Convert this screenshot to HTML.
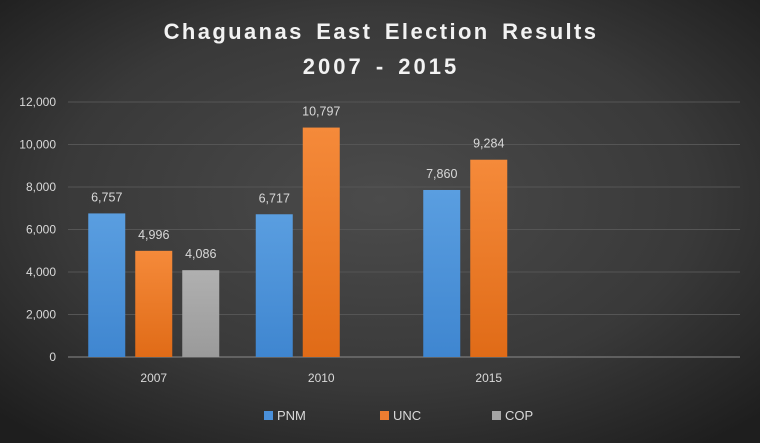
<!DOCTYPE html>
<html><head><meta charset="utf-8">
<style>
html,body{margin:0;padding:0;}
body{width:760px;height:443px;overflow:hidden;background:#333;font-family:"Liberation Sans",sans-serif;}
svg{display:block;}
</style></head>
<body>
<svg id="chart" width="760" height="443" viewBox="0 0 760 443" xmlns="http://www.w3.org/2000/svg">
<defs>
<radialGradient id="bg" cx="50%" cy="45%" r="70%">
<stop offset="0" stop-color="#4b4b4b"/><stop offset="0.6" stop-color="#393939"/><stop offset="1" stop-color="#1e1e1e"/>
</radialGradient>
<linearGradient id="gPNM" x1="0" y1="0" x2="0" y2="1"><stop offset="0" stop-color="#5a9ee0"/><stop offset="1" stop-color="#3f86d0"/></linearGradient>
<linearGradient id="gUNC" x1="0" y1="0" x2="0" y2="1"><stop offset="0" stop-color="#f58a3a"/><stop offset="1" stop-color="#e06b17"/></linearGradient>
<linearGradient id="gCOP" x1="0" y1="0" x2="0" y2="1"><stop offset="0" stop-color="#b0b0b0"/><stop offset="1" stop-color="#9a9a9a"/></linearGradient>
</defs>
<rect x="0" y="0" width="760" height="443" fill="url(#bg)"/>
<text x="381" y="39" text-anchor="middle" fill="#f2f2f2" font-size="22" font-weight="bold" letter-spacing="2.4" word-spacing="4">Chaguanas East Election Results</text>
<text x="381" y="74" text-anchor="middle" fill="#f2f2f2" font-size="22" font-weight="bold" letter-spacing="3" word-spacing="3">2007 - 2015</text>
<g id="grid"></g><g id="bars"></g><g id="labels"></g><g id="legend"></g>
</svg>
<script>
const categories = ["2007", "2010", "2015", ""];
const seriesNames = ["PNM", "UNC", "COP"];
const pnmValues = [6757, 6717, 7860, null];
const uncValues = [4996, 10797, 9284, null];
const copValues = [4086, null, null, null];
const yTicks = [0, 2000, 4000, 6000, 8000, 10000, 12000];
const series = [pnmValues, uncValues, copValues];
const fills = ["url(#gPNM)", "url(#gUNC)", "url(#gCOP)"];
const legendColors = ["#4a90da", "#ed7d31", "#a5a5a5"];
const NS = "http://www.w3.org/2000/svg";
const x0 = 70, x1 = 740, yBase = 357, yTop = 102;
const yMax = 12000;
const y = v => yBase - (v / yMax) * (yBase - yTop);
const band = (x1 - x0) / categories.length;
const barW = 37, gap = 10;
const fmt = v => v.toLocaleString("en-US");
function mk(tag, attrs, parent) { const e = document.createElementNS(NS, tag); for (const k in attrs) e.setAttribute(k, attrs[k]); parent.appendChild(e); return e; }
const grid = document.getElementById("grid"), bars = document.getElementById("bars"), labels = document.getElementById("labels"), legend = document.getElementById("legend");
yTicks.forEach(t => {
  const l = mk("line", { x1: 68, x2: x1, y1: y(t), y2: y(t), stroke: t === 0 ? "#8a8a8a" : "#555", "stroke-width": 1 }, grid);
  
  
  const tx = mk("text", { x: 56, y: y(t) + 4, "text-anchor": "end", fill: "#d9d9d9", "font-size": 12 }, labels);
  tx.textContent = fmt(t);
  
  
});
categories.forEach((c, i) => {
  const cx = x0 + band * (i + 0.5);
  if (c) {
    const tx = mk("text", { x: cx, y: yBase + 25, "text-anchor": "middle", fill: "#d9d9d9", "font-size": 12 }, labels);
    tx.textContent = c;
    
    
  }
  const total = series.length * barW + (series.length - 1) * gap;
  series.forEach((s, j) => {
    const v = s[i];
    if (v == null) return;
    const bx = cx - total / 2 + j * (barW + gap);
    const r = mk("rect", { x: bx, y: y(v), width: barW, height: yBase - y(v), fill: fills[j] }, bars);
    
    
    const t = mk("text", { x: bx + barW / 2, y: y(v) - 12, "text-anchor": "middle", fill: "#d9d9d9", "font-size": 12.5 }, labels);
    t.textContent = fmt(v);
    
    
  });
});
const legendX = [264, 380, 492];
seriesNames.forEach((n, j) => {
  const sq = mk("rect", { x: legendX[j], y: 411, width: 9, height: 9, fill: legendColors[j] }, legend);
  
  
  const t = mk("text", { x: legendX[j] + 13, y: 420, fill: "#d9d9d9", "font-size": 13 }, legend);
  t.textContent = n;
  
  
});
</script>
</body></html>
